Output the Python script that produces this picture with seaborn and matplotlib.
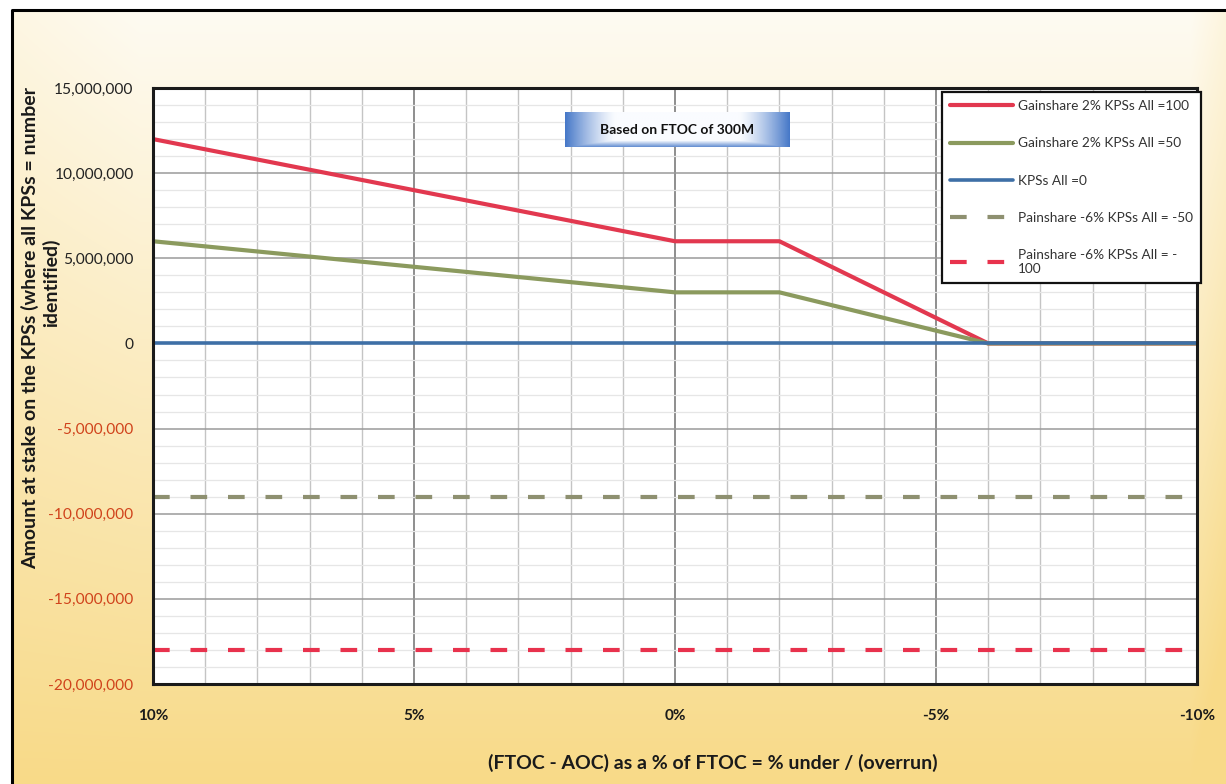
import numpy as np
import pandas as pd
import matplotlib
matplotlib.use("Agg")
import matplotlib.pyplot as plt
import seaborn as sns

# ---- data -------------------------------------------------------------
pct = [10, 0, -2, -6, -10]                      # (FTOC - AOC) as % of FTOC
gain_100 = [12_000_000, 6_000_000, 6_000_000, 0, 0]
gain_50 = [6_000_000, 3_000_000, 3_000_000, 0, 0]
kps_0 = [0, 0, 0, 0, 0]
pain_50 = [-9_000_000] * 5
pain_100 = [-18_000_000] * 5

series_labels = [
    "Gainshare 2% KPSs All =100",
    "Gainshare 2% KPSs All =50",
    "KPSs All =0",
    "Painshare -6% KPSs All = -50",
    "Painshare -6% KPSs All = -\n100",
]
x_ticks = [10, 5, 0, -5, -10]
x_tick_labels = ["10%", "5%", "0%", "-5%", "-10%"]
y_ticks = [15_000_000, 10_000_000, 5_000_000, 0, -5_000_000,
           -10_000_000, -15_000_000, -20_000_000]
y_tick_labels = ["15,000,000", "10,000,000", "5,000,000", "0", "-5,000,000",
                 "-10,000,000", "-15,000,000", "-20,000,000"]
y_title_lines = ["Amount at stake on the KPSs (where all KPSs = number", "identified)"]

sns.set_theme(style="white")
plt.rcParams["font.family"] = ["Lato", "DejaVu Sans"]

W, H = 1226, 784
fig = plt.figure(figsize=(W / 100, H / 100), dpi=100)

# ---- background: cream to warm yellow gradient -----------------------
bg = fig.add_axes([0, 0, 1, 1], zorder=-10)
yy, xx = np.mgrid[0:H, 0:W]
t = np.clip((yy - 10) / (H - 10), 0, 1) ** 1.0
edge = np.clip(1 - xx / 140, 0, 1) * 0.25 * (1 - t) + np.clip((xx - 1190) / 40, 0, 1) * 0.35
t = np.clip(t + edge * 0.6, 0, 1)
top = np.array([254, 251, 242]) / 255
bottom = np.array([248, 218, 136]) / 255
img = top[None, None, :] * (1 - t[..., None]) + bottom[None, None, :] * t[..., None]
img[:10, :, :] = 1.0
img[:, :12, :] = 1.0
bg.imshow(img, aspect="auto", extent=[0, W, H, 0])
bg.set_xlim(0, W)
bg.set_ylim(H, 0)
bg.axis("off")
bg.plot([12, 12, W], [H, 10, 10], color="black", lw=2.2)

# ---- main plot area ---------------------------------------------------
ax = fig.add_axes([153 / W, 1 - 684 / H, (1197 - 153) / W, (684 - 88) / H])
ax.set_facecolor("white")

df = pd.DataFrame({"pct": pct, "g100": gain_100, "g50": gain_50, "k0": kps_0,
                   "p50": pain_50, "p100": pain_100})

styles = [
    ("g100", "#e2384f", "-", 3.0),
    ("g50", "#8b9a5e", "-", 3.0),
    ("k0", "#3e6fa6", "-", 2.6),
    ("p50", "#8e9070", (0, (4, 5)), 3.0),
    ("p100", "#e8324d", (0, (4, 5)), 3.0),
]
for (col, color, ls, lw), lab in zip(styles, series_labels):
    sns.lineplot(data=df, x="pct", y=col, ax=ax, color=color, linestyle=ls,
                 linewidth=lw, label=lab, estimator=None, sort=False)

ax.set_xlim(10, -10)
ax.set_ylim(-20_000_000, 15_000_000)

# gridlines: majors darker, minors lighter
ax.set_xticks(x_ticks)
ax.set_xticks(list(range(10, -11, -1)), minor=True)
ax.set_yticks(y_ticks)
ax.set_yticks(list(range(-20_000_000, 15_000_001, 1_000_000)), minor=True)
ax.grid(True, which="major", axis="x", color="#707070", lw=1.1)
ax.grid(True, which="minor", axis="x", color="#c4c4c4", lw=1.0)
ax.grid(True, which="major", axis="y", color="#9a9a9a", lw=1.1)
ax.grid(True, which="minor", axis="y", color="#e6e6e6", lw=0.9)
ax.set_axisbelow(True)
for sp in ax.spines.values():
    sp.set_color("#1a1a1a")
    sp.set_linewidth(2.2)

ax.tick_params(which="both", length=0)
ax.set_xticklabels(x_tick_labels, fontsize=11, fontweight="bold", color="#1a1a1a")
ax.tick_params(axis="x", pad=18)
ax.set_yticklabels(y_tick_labels, fontsize=11.2, color="#222222")
ax.tick_params(axis="y", pad=14)
for lab, v in zip(ax.get_yticklabels(), y_ticks):
    if v < 0:
        lab.set_color("#d0431c")

ax.set_xlabel("(FTOC - AOC) as a % of FTOC = % under / (overrun)",
              fontsize=14, fontweight="bold", color="#1a1a1a")
ax.xaxis.set_label_coords(0.536, -0.118)
ax.set_ylabel("")

# y-axis title, wrapped over two lines
fig.text(30 / W, 1 - 328 / H, y_title_lines[0], rotation=90, ha="center", va="center",
         fontsize=14, fontweight="bold", color="#1a1a1a")
fig.text(51 / W, 1 - 283 / H, y_title_lines[1], rotation=90, ha="center", va="center",
         fontsize=14, fontweight="bold", color="#1a1a1a")

# legend box at the upper right
leg = ax.legend(loc="upper left", bbox_to_anchor=(942 / W, 1 - 92 / H),
                bbox_transform=fig.transFigure, frameon=True, fancybox=False,
                borderaxespad=0, fontsize=9.8, handlelength=4.6, handletextpad=0.35,
                labelspacing=1.85, borderpad=0.6)
leg.get_frame().set_edgecolor("#111111")
leg.get_frame().set_linewidth(1.6)
leg.get_frame().set_facecolor("white")
leg.get_frame().set_alpha(1)
for txt in leg.get_texts():
    txt.set_color("#333333")

# title box with blue side gradient
box = fig.add_axes([565 / W, 1 - 147 / H, (790 - 565) / W, (147 - 112) / H], zorder=5)
u = np.linspace(-1, 1, 300)
v = np.linspace(0, 1, 40)
U, V = np.meshgrid(u, v)
s = np.clip((np.abs(U) - 0.55) / 0.45, 0, 1) ** 1.3
s = np.maximum(s, np.clip((V - 0.82) / 0.18, 0, 1) * 0.8)
blue = np.array([70, 120, 200]) / 255
white = np.array([250, 252, 255]) / 255
grad = white[None, None, :] * (1 - s[..., None]) + blue[None, None, :] * s[..., None]
box.imshow(grad, aspect="auto", extent=[0, 1, 0, 1], origin="upper")
box.set_xlim(0, 1)
box.set_ylim(0, 1)
box.axis("off")
box.text(0.5, 0.5, "Based on FTOC of 300M", ha="center", va="center",
         fontsize=10, fontweight="bold", color="#111111")

fig.savefig("out.png", dpi=100)
